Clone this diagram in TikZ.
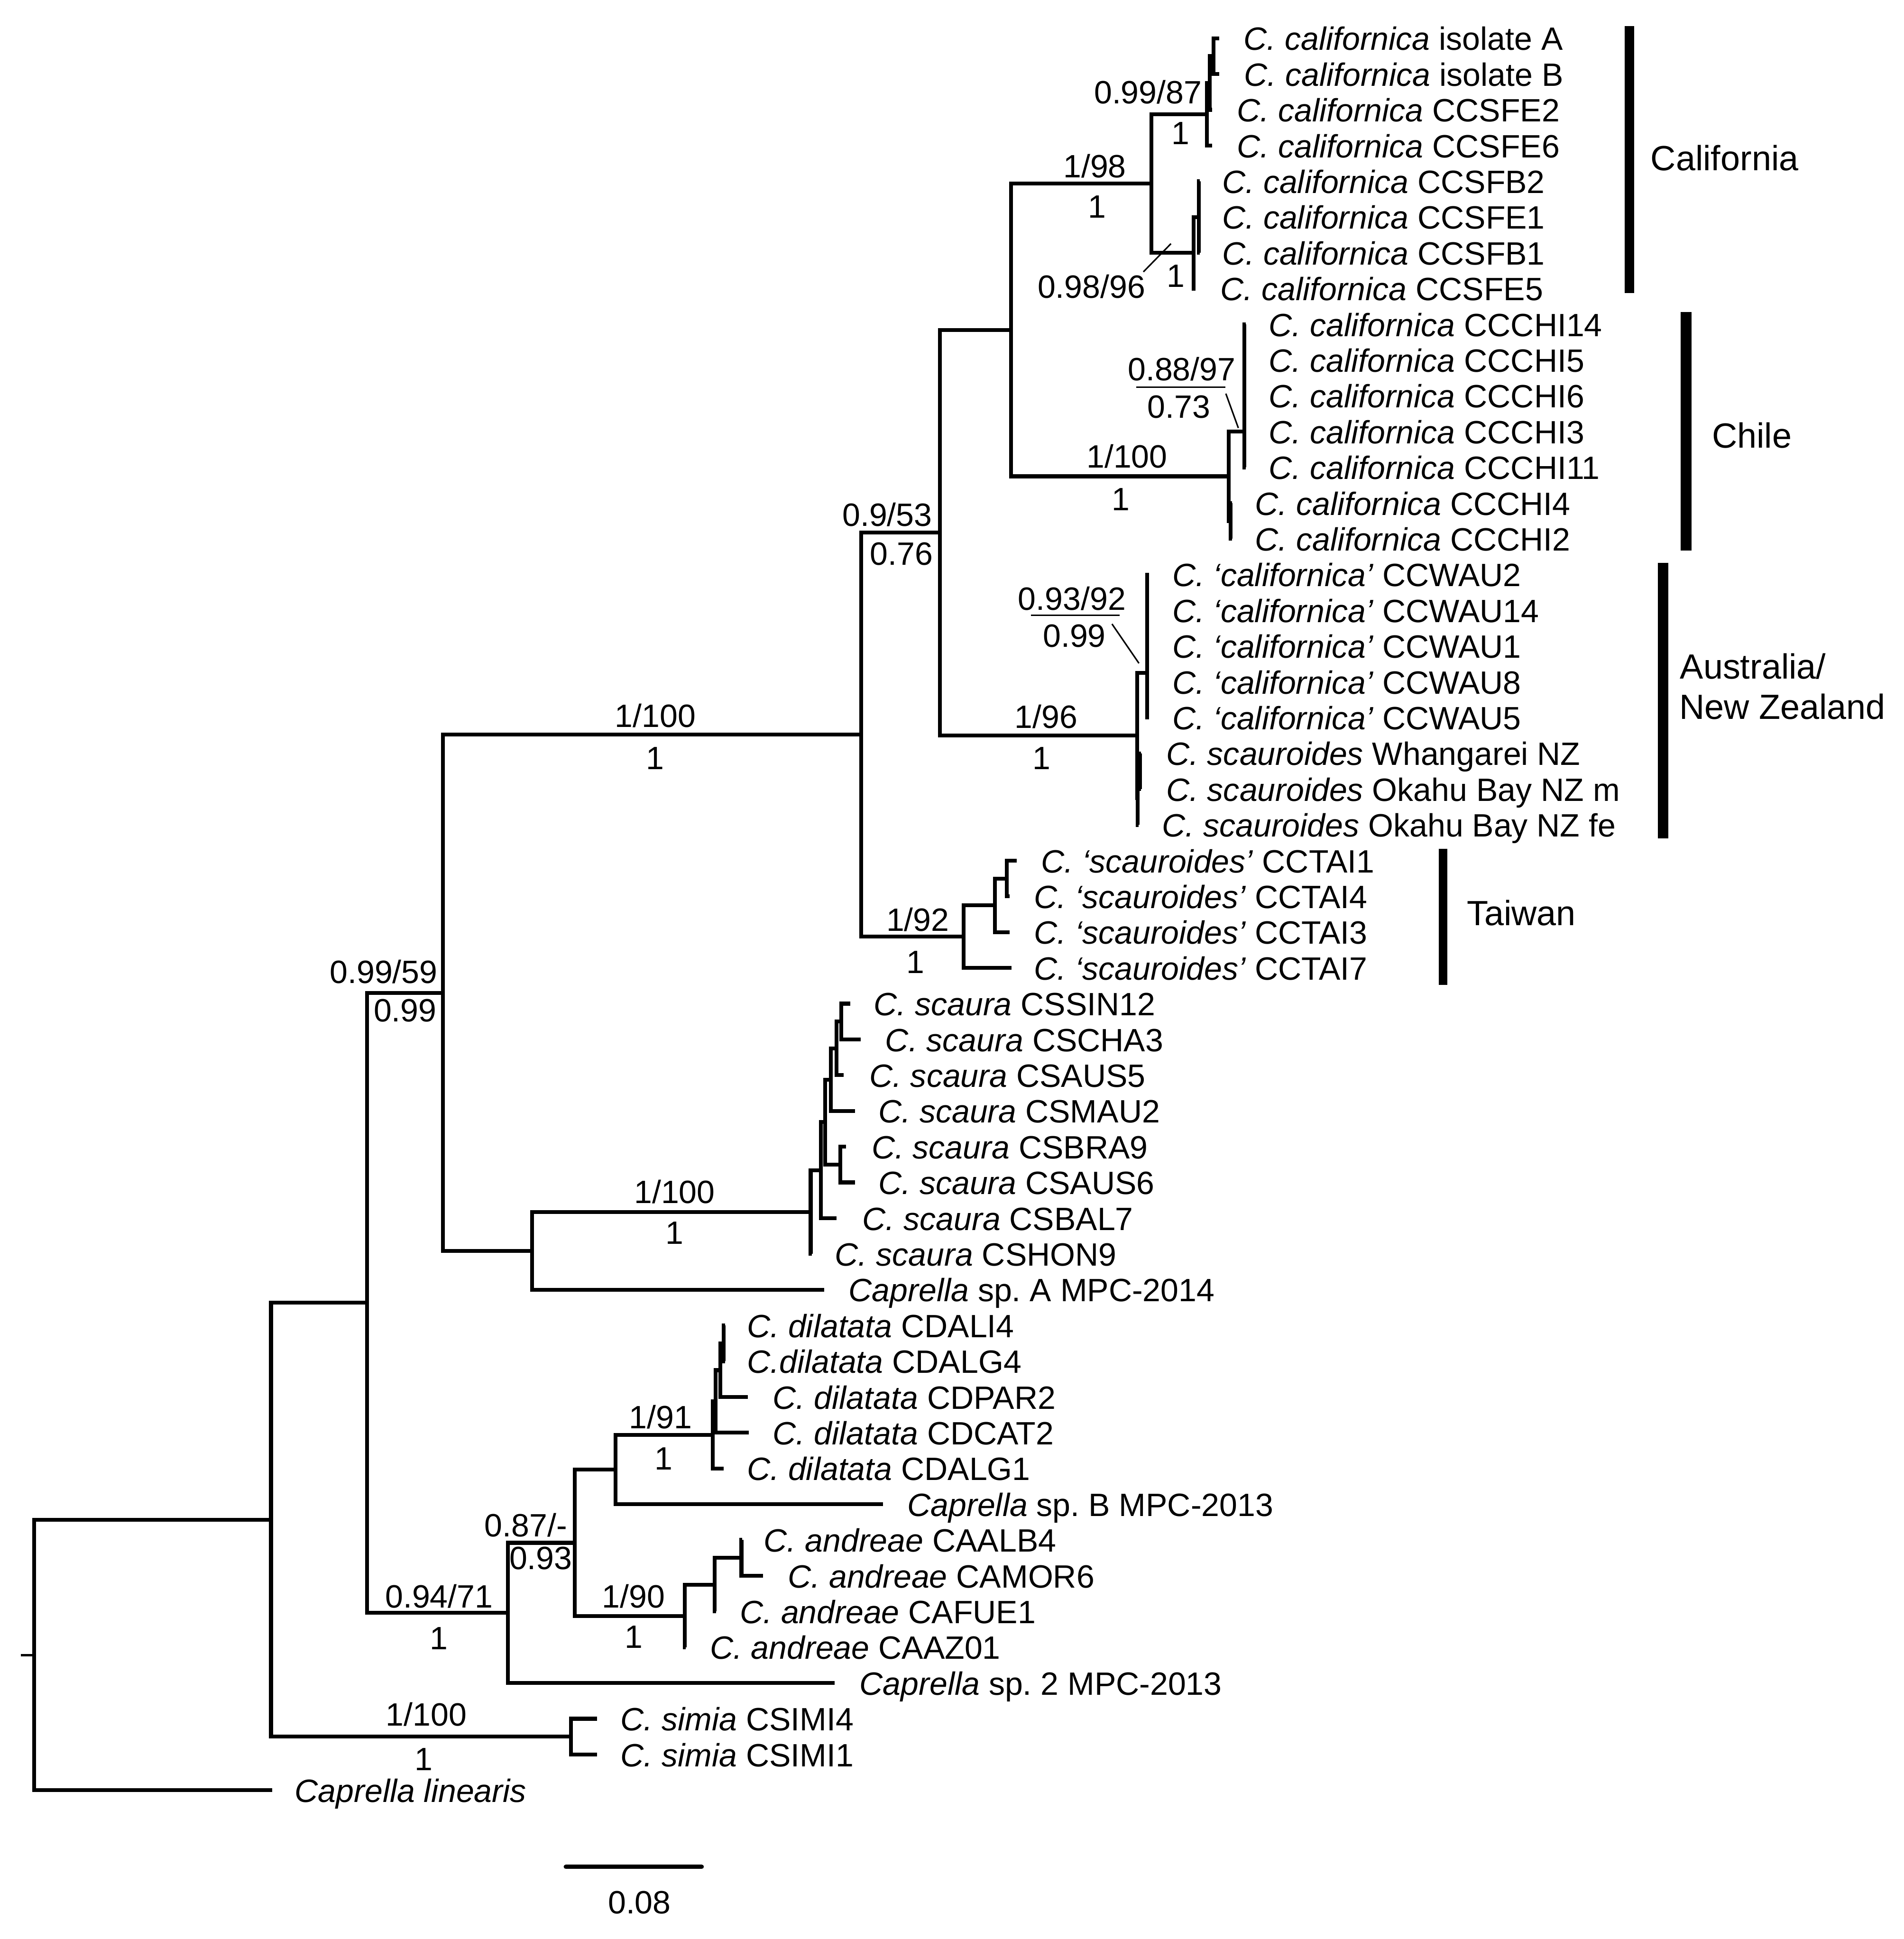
\documentclass[tikz,border=0pt]{standalone}
\usepackage{fontspec}
\setmainfont{Liberation Sans}
\frenchspacing
\newcommand\lffont{\fontsize{26.1}{30}\selectfont}
\newcommand\rgfont{\fontsize{28.3}{32.6}\selectfont}
\tikzset{
  br/.style={line width=3.1pt, line join=miter},
  leaflab/.style={anchor=base west, inner sep=0pt, outer sep=0pt, font=\lffont, xshift=-1.3pt, yshift=-9.6pt},
  sup/.style={anchor=center, inner sep=0pt, outer sep=0pt, font=\lffont, text height=18.7pt, text depth=0pt},
  region/.style={inner sep=0pt, outer sep=0pt, font=\rgfont, text height=20.3pt, text depth=0pt},
  thinline/.style={line width=1.2pt},
  scalebar/.style={line width=3.6pt, line cap=round},
  regbar/.style={fill=black}
}
\newcommand\lf[5]{\coordinate (t#1) at (#2,#3); \node[leaflab] (l#1) at (#4,#3) {#5};}
\newcommand\kids[2]{\foreach \c in {#2}{\draw[br] (#1) |- (\c);}}
\begin{document}
\begin{tikzpicture}[x=1pt,y=-1pt]
\useasboundingbox (0,0) rectangle (1540,1568.4);
% leaves
\lf{0}{986}{31.0}{1007.2}{\textit{C. californica} isolate A}
\lf{1}{986}{59.9}{1007.5}{\textit{C. californica} isolate B}
\lf{2}{980.5}{88.8}{1001.8}{\textit{C. californica} CCSFE2}
\lf{3}{980.5}{117.8}{1001.8}{\textit{C. californica} CCSFE6}
\lf{4}{970.5}{146.7}{989.8}{\textit{C. californica} CCSFB2}
\lf{5}{970.5}{175.6}{989.8}{\textit{C. californica} CCSFE1}
\lf{6}{970.5}{204.5}{989.8}{\textit{C. californica} CCSFB1}
\lf{7}{967}{233.4}{988.4}{\textit{C. californica} CCSFE5}
\lf{8}{1007.5}{262.4}{1027.5}{\textit{C. californica} CCCHI14}
\lf{9}{1007.5}{291.3}{1027.5}{\textit{C. californica} CCCHI5}
\lf{10}{1007.5}{320.2}{1027.5}{\textit{C. californica} CCCHI6}
\lf{11}{1007.5}{349.1}{1027.5}{\textit{C. californica} CCCHI3}
\lf{12}{1007.5}{378.0}{1027.5}{\textit{C. californica} CCCHI11}
\lf{13}{996.5}{407.0}{1016.3}{\textit{C. californica} CCCHI4}
\lf{14}{996.5}{435.9}{1016.3}{\textit{C. californica} CCCHI2}
\lf{15}{929.5}{464.8}{949.5}{\textit{C. ‘californica’} CCWAU2}
\lf{16}{929.5}{493.7}{949.5}{\textit{C. ‘californica’} CCWAU14}
\lf{17}{929.5}{522.6}{949.5}{\textit{C. ‘californica’} CCWAU1}
\lf{18}{929.5}{551.6}{949.5}{\textit{C. ‘californica’} CCWAU8}
\lf{19}{929.5}{580.5}{949.5}{\textit{C. ‘californica’} CCWAU5}
\lf{20}{923}{609.4}{944.5}{\textit{C. scauroides} Whangarei NZ}
\lf{21}{923}{638.3}{944.5}{\textit{C. scauroides} Okahu Bay NZ m}
\lf{22}{921}{667.2}{941.2}{\textit{C. scauroides} Okahu Bay NZ fe}
\lf{23}{822.5}{696.2}{843.5}{\textit{C. ‘scauroides’} CCTAI1}
\lf{24}{816.5}{725.1}{837.6}{\textit{C. ‘scauroides’} CCTAI4}
\lf{25}{816.5}{754.0}{837.6}{\textit{C. ‘scauroides’} CCTAI3}
\lf{26}{818}{782.9}{837.6}{\textit{C. ‘scauroides’} CCTAI7}
\lf{27}{687.8}{811.8}{708.1}{\textit{C. scaura} CSSIN12}
\lf{28}{696.3}{840.8}{717.4}{\textit{C. scaura} CSCHA3}
\lf{29}{682.3}{869.7}{704.4}{\textit{C. scaura} CSAUS5}
\lf{30}{691.5}{898.6}{711.8}{\textit{C. scaura} CSMAU2}
\lf{31}{684.1}{927.5}{706.3}{\textit{C. scaura} CSBRA9}
\lf{32}{691.5}{956.4}{711.8}{\textit{C. scaura} CSAUS6}
\lf{33}{676.7}{985.4}{698.9}{\textit{C. scaura} CSBAL7}
\lf{34}{656.5}{1014.3}{676.7}{\textit{C. scaura} CSHON9}
\lf{35}{666.8}{1043.2}{687.8}{\textit{Caprella} sp. A MPC-2014}
\lf{36}{586.5}{1072.1}{605.5}{\textit{C. dilatata} CDALI4}
\lf{37}{586.5}{1101.0}{605.5}{\textit{C.dilatata} CDALG4}
\lf{38}{605}{1130.0}{626.4}{\textit{C. dilatata} CDPAR2}
\lf{39}{605.5}{1158.9}{626.4}{\textit{C. dilatata} CDCAT2}
\lf{40}{585.5}{1187.8}{605.5}{\textit{C. dilatata} CDALG1}
\lf{41}{714}{1216.7}{735.3}{\textit{Caprella} sp. B MPC-2013}
\lf{42}{600.2}{1245.6}{619.1}{\textit{C. andreae} CAALB4}
\lf{43}{617}{1274.6}{638.5}{\textit{C. andreae} CAMOR6}
\lf{44}{579}{1303.5}{599.7}{\textit{C. andreae} CAFUE1}
\lf{45}{554.5}{1332.4}{575.5}{\textit{C. andreae} CAAZ01}
\lf{46}{675}{1361.3}{696.6}{\textit{Caprella} sp. 2 MPC-2013}
\lf{47}{483}{1390.2}{503.3}{\textit{C. simia} CSIMI4}
\lf{48}{483}{1419.2}{503.3}{\textit{C. simia} CSIMI1}
\lf{49}{220}{1448.1}{239.8}{\textit{Caprella linearis}}
% internal nodes
\coordinate (root) at (27.7,1338.7);
\coordinate (rt) at (17,1338.7);
\coordinate (nA) at (219.2,1229.3);
\coordinate (nB) at (296.8,1053.8);
\coordinate (nSim) at (461.7,1404.7);
\coordinate (nC) at (358.4,803.0);
\coordinate (nD) at (410.8,1304.6);
\coordinate (nE) at (696.7,594.3);
\coordinate (nF) at (430.4,1011.8);
\coordinate (nG) at (760.1,430.9);
\coordinate (nT) at (779.3,757.6);
\coordinate (nH) at (817.6,266.9);
\coordinate (nAU1) at (919.8,594.9);
\coordinate (nCal) at (931.2,148.5);
\coordinate (nCh1) at (993.8,385.3);
\coordinate (nX1) at (976.3,92.5);
\coordinate (nX2) at (978.5,67.1);
\coordinate (nX3) at (981.5,45.45);
\coordinate (nX4) at (965.5,204.5);
\coordinate (nX5) at (969.5,175.6);
\coordinate (nCh2) at (1006.4,349.1);
\coordinate (nCh3) at (995.5,421.5);
\coordinate (nAU2) at (928,544.3);
\coordinate (nNZ) at (920,645.5);
\coordinate (nNZ2) at (922,623.9);
\coordinate (nT2) at (804.6,732.3);
\coordinate (nT3) at (814.3,710.7);
\coordinate (nS1) at (655.7,980.4);
\coordinate (nS3) at (663.8,946.5);
\coordinate (nS4) at (667.5,907.6);
\coordinate (nSm) at (671.9,873.3);
\coordinate (nSa5) at (676.7,848.0);
\coordinate (nSa) at (680.4,826.3);
\coordinate (nSba) at (679.7,942.0);
\coordinate (nN087) at (465,1247.9);
\coordinate (nDB) at (498,1188.7);
\coordinate (nD4) at (576.5,1160.7);
\coordinate (nD3) at (578.9,1133.6);
\coordinate (nD2) at (582.8,1108.3);
\coordinate (nD1) at (585.2,1086.6);
\coordinate (nA1) at (553.7,1307.1);
\coordinate (nA2) at (577.9,1281.8);
\coordinate (nA3) at (599.7,1260.1);
% branches
\draw[line width=2pt] (rt) -- (root);
\kids{root}{nA,t49}
\kids{nA}{nB,nSim}
\kids{nSim}{t47,t48}
\kids{nB}{nC,nD}
\kids{nC}{nE,nF}
\kids{nE}{nG,nT}
\kids{nG}{nH,nAU1}
\kids{nH}{nCal,nCh1}
\kids{nCal}{nX1,nX4}
\kids{nX1}{nX2,t3}
\kids{nX2}{nX3,t2}
\kids{nX3}{t0,t1}
\kids{nX4}{nX5,t7}
\kids{nX5}{t4,t5,t6}
\kids{nCh1}{nCh2,nCh3}
\kids{nCh2}{t8,t9,t10,t11,t12}
\kids{nCh3}{t13,t14}
\kids{nAU1}{nAU2,nNZ}
\kids{nAU2}{t15,t16,t17,t18,t19}
\kids{nNZ}{nNZ2,t22}
\kids{nNZ2}{t20,t21}
\kids{nT}{nT2,t26}
\kids{nT2}{nT3,t25}
\kids{nT3}{t23,t24}
\kids{nF}{nS1,t35}
\kids{nS1}{nS3,t34}
\kids{nS3}{nS4,t33}
\kids{nS4}{nSm,nSba}
\kids{nSm}{nSa5,t30}
\kids{nSa5}{nSa,t29}
\kids{nSa}{t27,t28}
\kids{nSba}{t31,t32}
\kids{nD}{nN087,t46}
\kids{nN087}{nDB,nA1}
\kids{nDB}{nD4,t41}
\kids{nD4}{nD3,t40}
\kids{nD3}{nD2,t39}
\kids{nD2}{nD1,t38}
\kids{nD1}{t36,t37}
\kids{nA1}{nA2,t45}
\kids{nA2}{nA3,t44}
\kids{nA3}{t42,t43}
% support values
\node[sup] (s1) at (928.5,74.4) {0.99/87};
\node[sup] (s1b) at (954.7,107.4) {1};
\node[sup] (s2) at (885.5,134.2) {1/98};
\node[sup] (s2b) at (887.3,166.8) {1};
\node[sup] (s3) at (882.8,231.9) {0.98/96};
\node[sup] (s3b) at (951,223) {1};
\coordinate (p3a) at (924.8,219.9); \coordinate (p3b) at (947.1,197.1);
\draw[thinline] (p3a) -- (p3b);
\node[sup] (s4) at (955.8,298.6) {0.88/97};
\coordinate (u4a) at (919.2,313.1); \coordinate (u4b) at (991,313.1);
\draw[thinline] (u4a) -- (u4b);
\node[sup] (s4b) at (953.5,328.6) {0.73};
\coordinate (p4a) at (991.5,318.4); \coordinate (p4b) at (1001.6,346.2);
\draw[thinline] (p4a) -- (p4b);
\node[sup] (s5) at (911.5,369) {1/100};
\node[sup] (s5b) at (906.7,403.5) {1};
\node[sup] (s6) at (867,484.2) {0.93/92};
\coordinate (u6a) at (834,497.6); \coordinate (u6b) at (905.4,497.6);
\draw[thinline] (u6a) -- (u6b);
\node[sup] (s6b) at (869,514) {0.99};
\coordinate (p6a) at (899.4,504.7); \coordinate (p6b) at (921.2,536.5);
\draw[thinline] (p6a) -- (p6b);
\node[sup] (s7) at (846.2,579.7) {1/96};
\node[sup] (s7b) at (842.6,613) {1};
\node[sup] (s8) at (717.6,416.3) {0.9/53};
\node[sup] (s8b) at (729.2,447.8) {0.76};
\node[sup] (s9) at (742.3,743.6) {1/92};
\node[sup] (s9b) at (740.4,778) {1};
\node[sup] (s10) at (530,579) {1/100};
\node[sup] (s10b) at (530,613) {1};
\node[sup] (s11) at (310.3,785.8) {0.99/59};
\node[sup] (s11b) at (327.7,817.1) {0.99};
\node[sup] (s12) at (545.6,964) {1/100};
\node[sup] (s12b) at (545.6,996.9) {1};
\node[sup] (s13) at (534.3,1146.1) {1/91};
\node[sup] (s13b) at (536.7,1179.6) {1};
\node[sup] (s14) at (425.3,1233.5) {0.87/-};
\node[sup] (s14b) at (437.4,1259.9) {0.93};
\node[sup] (s15) at (355.1,1291.3) {0.94/71};
\node[sup] (s15b) at (355.1,1324.9) {1};
\node[sup] (s16) at (512.5,1291.3) {1/90};
\node[sup] (s16b) at (512.5,1323.8) {1};
\node[sup] (s17) at (344.8,1386.6) {1/100};
\node[sup] (s17b) at (342.8,1422.7) {1};
% scale bar
\coordinate (sbL) at (457.7,1510); \coordinate (sbR) at (567.5,1510);
\draw[scalebar] (sbL) -- (sbR);
\node[sup] (sbl) at (517.2,1538.4) {0.08};
% region bars and labels
\fill[regbar] (1313.9,21) rectangle (1321.9,237.2);
\fill[regbar] (1359.4,252.2) rectangle (1368.2,445.3);
\fill[regbar] (1341,455.3) rectangle (1349.3,678);
\fill[regbar] (1163.7,686.7) rectangle (1170.7,796.5);
\node[region,anchor=center] (rCal) at (1394.9,127.8) {California};
\node[region,anchor=center] (rChi) at (1417,352) {Chile};
\node[region,anchor=west] (rAu1) at (1358.9,539.1) {Australia/};
\node[region,anchor=west] (rAu2) at (1358.2,571.7) {New Zealand};
\node[region,anchor=center] (rTw) at (1230.5,738.3) {Taiwan};
\end{tikzpicture}
\end{document}
